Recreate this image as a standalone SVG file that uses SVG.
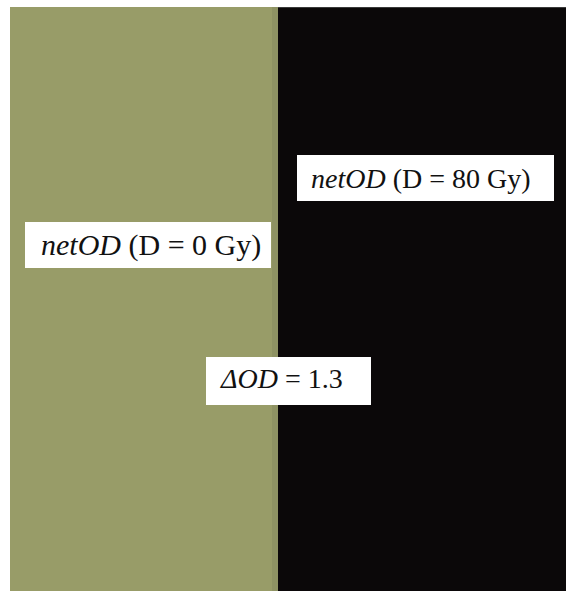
<svg xmlns="http://www.w3.org/2000/svg" width="566" height="591" viewBox="0 0 566 591">
<style>
.lbl{fill:#ffffff}
.t{font-family:"Liberation Serif","Times New Roman",serif;font-size:28px;fill:#111111}
.big{font-size:30px}
.i{font-style:italic}
</style>
<rect x="0" y="0" width="566" height="591" fill="#ffffff"/>
<g id="film">
<rect x="10" y="7" width="268" height="584" fill="#989c68"/>
<rect x="272" y="7" width="6" height="584" fill="#8e9263"/>
<rect x="278" y="7" width="288" height="584" fill="#0b0809"/>
<rect x="278" y="7" width="288" height="1" fill="#3a3a3a"/>
</g>
<g id="label-0gy">
<rect class="lbl" x="25" y="222" width="246" height="46"/>
<text class="t big" x="41" y="255"><tspan class="i">netOD</tspan> (D = 0 Gy)</text>
</g>
<g id="label-80gy">
<rect class="lbl" x="297" y="155" width="257" height="46"/>
<text class="t" x="311" y="188"><tspan class="i">netOD</tspan> (D = 80 Gy)</text>
</g>
<g id="label-delta">
<rect class="lbl" x="206" y="357" width="165" height="48"/>
<text class="t" x="221" y="388"><tspan class="i">ΔOD</tspan> = 1.3</text>
</g>
</svg>
